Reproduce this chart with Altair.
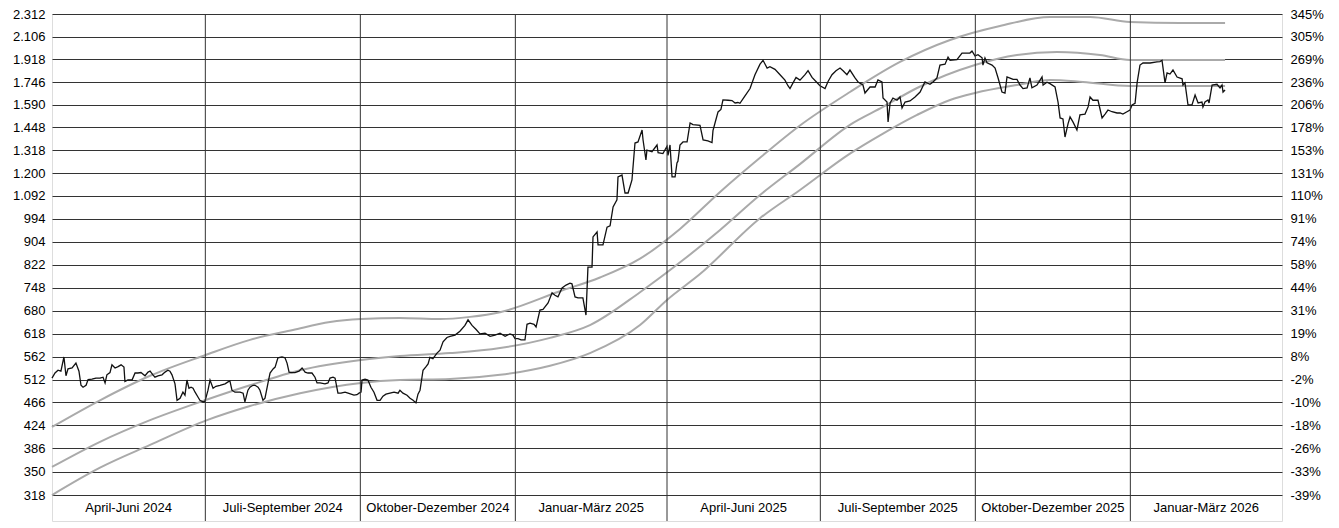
import altair as alt
import pandas as pd

BASE = pd.Timestamp("2024-04-01")

# ---------------- data ----------------
y_ticks = [318, 350, 386, 424, 466, 512, 562, 618, 680, 748, 822, 904, 994,
           1092, 1200, 1318, 1448, 1590, 1746, 1918, 2106, 2312]
right_labels = ["-39%", "-33%", "-26%", "-18%", "-10%", "-2%", "8%", "19%", "31%",
                "44%", "58%", "74%", "91%", "110%", "131%", "153%", "178%", "206%",
                "236%", "269%", "305%", "345%"]

quarter_names = ["April-Juni 2024", "Juli-September 2024", "Oktober-Dezember 2024",
                 "Januar-März 2025", "April-Juni 2025", "Juli-September 2025",
                 "Oktober-Dezember 2025", "Januar-März 2026"]
quarter_starts = ["2024-04-01", "2024-07-01", "2024-10-01", "2025-01-01",
                  "2025-04-01", "2025-07-01", "2025-10-01", "2026-01-01", "2026-04-01"]

# price: days since 2024-04-01 and closing value
price_days = [0, 1.8, 3.6, 5.3, 7.1, 8.3, 9.5, 11.9, 14.2, 16.0, 17.2, 18.4, 20.2, 21.4,
              23.7, 26.1, 28.5, 30.3, 31.5, 32.6, 34.4, 35.6, 37.4, 39.2, 41.0, 42.7,
              43.3, 45.1, 47.5, 49.3, 51.0, 52.8, 55.2, 57.0, 58.2, 59.9, 61.1, 62.9,
              65.3, 67.1, 68.8, 70.0, 71.2, 73.0, 74.2, 76.0, 77.7, 78.9, 80.1, 81.3,
              82.5, 83.7, 84.9, 86.7, 87.8, 89.6, 90.8,
              92.6, 93.8, 95.6, 97.3, 99.7, 102.7, 104.5, 105.6, 106.8, 108.6, 111.6,
              113.4, 114.5, 116.3, 117.5, 119.3, 120.5, 122.3, 123.4, 125.2, 126.4,
              128.2, 129.4, 131.2, 132.4, 134.1, 136.5, 138.3, 139.5, 140.7, 142.4,
              144.2, 146.6, 148.4, 150.2, 151.9, 154.3, 156.1, 157.3, 159.1, 162.0,
              163.8, 165.0, 166.8, 168.0, 169.7, 171.5, 173.9, 175.7, 177.5, 179.2,
              181.0, 182.2, 183.4,
              184.0, 185.8, 187.5, 189.3, 191.1, 192.9, 194.7, 196.4, 198.2, 200.6,
              203.0, 205.4, 206.5, 208.3, 210.7, 212.5, 214.3, 216.0, 217.2, 218.4,
              220.2, 222.0, 223.2, 224.3, 226.1, 228.5, 230.3, 232.1, 234.4, 236.2,
              239.2, 242.1, 245.1, 246.9, 249.3, 251.6, 254.0, 257.0, 260.0, 262.9,
              265.9, 268.9, 271.8, 273.6, 274.8,
              276.6, 278.4, 280.7, 281.9, 283.7, 286.1, 287.3, 289.6, 291.4, 294.4,
              296.8, 298.5, 300.3, 302.7, 305.1, 307.4, 308.6, 310.4, 312.2, 315.1,
              316.9, 318.1, 320.5, 321.1, 323.5, 324.1, 327.0, 329.4, 331.2, 333.0,
              335.3, 335.9, 338.3, 340.1, 341.9, 344.2, 346.0, 347.8, 350.2, 350.8,
              352.5, 353.1, 356.1, 359.1, 359.7, 362.6, 365.0,
              365.6, 366.8, 368.0, 369.8, 370.9, 371.5, 372.7, 374.5, 376.9, 378.7,
              380.4, 384.6, 386.4, 389.3, 391.7, 392.3, 393.5, 395.3, 397.0, 398.2,
              401.2, 403.6, 405.4, 407.1, 408.3, 411.3, 414.3, 417.2, 420.2, 422.0,
              424.4, 426.1, 429.1, 432.1, 435.0, 436.8, 438.0, 439.8, 441.6, 443.9,
              446.9, 448.7, 451.1, 453.4, 455.8,
              458.8, 460.6, 462.9, 465.3, 467.7, 469.5, 471.8, 473.6, 476.6, 478.4,
              481.3, 482.5, 485.5, 488.5, 490.2, 492.6, 493.2, 495.6, 496.2, 497.4,
              499.1, 501.5, 503.3, 504.5, 506.3, 509.2, 512.2, 515.2, 518.1, 521.1,
              522.9, 525.2, 527.0, 530.0, 531.8, 533.0, 537.1, 540.1, 542.5, 544.8,
              546.0, 547.8,
              549.6, 552.0, 552.5, 553.7, 554.9, 557.9, 559.7, 561.5, 563.8, 565.6,
              566.8, 568.6, 570.4, 572.7, 574.5, 576.3, 578.7, 580.4, 581.6, 584.6,
              586.4, 587.6, 588.2, 590.5, 592.3, 595.3, 597.1, 598.3, 600.0, 601.2,
              603.0, 604.2, 606.0, 608.3, 610.1, 613.1, 614.9, 616.1, 617.8, 620.8,
              623.2, 625.0, 626.7, 629.1, 632.1, 633.9, 635.6, 638.0, 639.8,
              641.0, 642.8, 644.0, 645.7, 647.5, 651.7, 655.8, 657.6, 658.8, 660.6,
              661.8, 663.5, 665.3, 667.7, 670.7, 671.2, 672.4, 674.2, 676.6, 678.4,
              680.2, 682.5, 683.1, 684.3, 686.1, 686.7, 688.5, 691.4, 693.2, 694.4,
              695.0, 696.2]
price_vals = [515, 526, 532, 530, 562, 520, 535, 537, 548, 530, 500, 496, 500, 512,
              513, 515, 515, 517, 505, 522, 527, 544, 537, 540, 544, 539,
              508, 511, 511, 526, 526, 527, 520, 528, 530, 522, 517, 520,
              522, 528, 532, 530, 522, 503, 470, 474, 486, 480, 511, 494,
              496, 494, 486, 476, 470, 467, 468,
              490, 511, 494, 498, 500, 503, 507, 509, 490, 486, 486,
              484, 467, 490, 496, 500, 500, 496, 490, 470, 474,
              505, 526, 535, 539, 560, 562, 560, 548, 528, 527,
              527, 530, 537, 528, 526, 526, 517, 505, 505, 503,
              505, 515, 517, 515, 484, 484, 486, 484, 482, 480,
              481, 484, 486,
              511, 513, 511, 496, 486, 470, 470, 478, 482, 484,
              486, 484, 490, 484, 480, 474, 470, 465, 482, 490,
              532, 540, 546, 561, 558, 571, 578, 598, 609, 612,
              615, 625, 640, 655, 640, 630, 618, 620, 612, 615,
              620, 612, 618, 615, 606,
              606, 603, 603, 643, 646, 643, 636, 682, 684, 702,
              732, 725, 720, 747, 756, 762, 760, 720, 717, 717,
              668, 814, 814, 922, 941, 892, 892, 960, 965, 1043,
              1074, 1181, 1190, 1105, 1105, 1166, 1358, 1364, 1433, 1375,
              1266, 1319, 1310, 1347, 1305, 1300, 1340,
              1290, 1347, 1181, 1181, 1251, 1260, 1347, 1364, 1364, 1475,
              1465, 1460, 1375, 1370, 1360, 1430, 1475, 1544, 1560, 1622,
              1620, 1618, 1602, 1605, 1600, 1650, 1700, 1800, 1880, 1910,
              1850, 1860, 1840, 1800, 1760, 1720, 1700, 1740, 1780, 1760,
              1800, 1830, 1780, 1750, 1720,
              1700, 1750, 1800, 1830, 1850, 1830, 1800, 1835, 1776, 1747,
              1725, 1669, 1711, 1711, 1761, 1747, 1635, 1608, 1481, 1602,
              1635, 1620, 1642, 1569, 1608, 1615, 1642, 1676, 1747, 1730,
              1747, 1776, 1873, 1880, 1936, 1910, 1915, 1968, 1968, 1968,
              1985, 1945,
              1955, 1930, 1873, 1928, 1890, 1873, 1850, 1776, 1676, 1669,
              1783, 1775, 1765, 1765, 1725, 1700, 1705, 1776, 1705, 1725,
              1760, 1783, 1725, 1745, 1735, 1711, 1608, 1506, 1500, 1392,
              1470, 1512, 1480, 1433, 1525, 1530, 1576, 1642, 1620, 1620,
              1506, 1530, 1556, 1545, 1537, 1537, 1530, 1545, 1556,
              1589, 1600, 1740, 1873, 1889, 1889, 1897, 1900, 1910, 1740,
              1813, 1805, 1835, 1783, 1770, 1725, 1740, 1589, 1589, 1655,
              1602, 1608, 1576, 1608, 1622, 1602, 1725, 1730, 1704, 1725,
              1676, 1690]

# gray trend lines (upper, middle, lower)
upper_days = [0, 28.5, 58.2, 90.8, 117.5, 143.0, 165.0, 183.4, 206.5, 230.3, 248.1,
              265.9, 301.5, 325.2, 349.0, 372.7, 396.5, 420.2, 443.9, 473.6, 503.3,
              533.0, 562.6, 592.3, 616.1, 639.8, 669.5, 696.2]
upper_vals = [421, 470, 520, 566, 603, 628, 649, 657, 660, 657, 663,
              676, 737, 780, 843, 953, 1110, 1278, 1460, 1676, 1897,
              2077, 2200, 2283, 2283, 2237, 2228, 2228]

mid_days = [0, 28.5, 58.2, 90.8, 117.5, 147.2, 183.4, 206.5, 236.2, 265.9, 295.6,
            319.3, 349.0, 374.5, 396.5, 420.2, 443.9, 473.6, 493.2, 513.4, 547.8,
            572.7, 596.5, 622.0, 639.8, 696.2]
mid_vals = [357, 396, 433, 470, 500, 532, 555, 564, 571, 583, 608,
            641, 734, 838, 949, 1096, 1245, 1464, 1576, 1704, 1873,
            1952, 1976, 1952, 1913, 1913]

low_days = [0, 28.5, 58.2, 92.0, 117.5, 147.2, 183.4, 206.5, 236.2, 265.9, 295.6,
            319.3, 349.0, 365.0, 384.6, 420.2, 443.9, 473.6, 493.2, 513.4, 533.0,
            547.8, 572.7, 592.3, 611.9, 639.8, 696.2]
low_vals = [318, 356, 391, 433, 459, 484, 505, 511, 513, 522, 542,
            571, 641, 711, 791, 996, 1119, 1300, 1412, 1525, 1622,
            1669, 1725, 1761, 1747, 1718, 1718]

# ---------------- tables ----------------
def to_dates(days):
    return [BASE + pd.Timedelta(hours=round(d * 24)) for d in days]

price_df = pd.DataFrame({"date": to_dates(price_days), "value": price_vals})
lines_df = pd.concat([
    pd.DataFrame({"date": to_dates(upper_days), "value": upper_vals, "band": "upper"}),
    pd.DataFrame({"date": to_dates(mid_days), "value": mid_vals, "band": "middle"}),
    pd.DataFrame({"date": to_dates(low_days), "value": low_vals, "band": "lower"}),
])
starts = pd.to_datetime(quarter_starts)
q_df = pd.DataFrame({
    "name": quarter_names,
    "mid": [starts[i] + (starts[i + 1] - starts[i]) / 2 for i in range(len(quarter_names))],
    "yv": [301.5] * len(quarter_names),
})
sep_df = pd.DataFrame({"date": starts[1:-1]})

FONT = "Liberation Sans"
x_scale = alt.Scale(domain=[BASE.isoformat(), pd.Timestamp("2026-04-01").isoformat()])
y_scale = alt.Scale(type="log", domain=[285.7, 2312], nice=False, zero=False)

right_expr = "".join(
    f"datum.value == {v} ? '{l}' : " for v, l in zip(y_ticks, right_labels)
) + "''"

left_axis = alt.Axis(values=y_ticks, orient="left", grid=True, gridColor="#333333",
                     gridWidth=1, ticks=False, domain=False, labelPadding=7,
                     labelFont=FONT, labelFontSize=13, labelColor="#000000",
                     labelExpr="replace(format(datum.value, ','), ',', '.')", title=None)
right_axis = alt.Axis(values=y_ticks, orient="right", grid=False, ticks=False,
                      domain=False, labelPadding=8, labelFont=FONT, labelFontSize=13,
                      labelColor="#000000", labelExpr=right_expr, title=None)

x_none = alt.X("date:T", scale=x_scale, axis=None)

seps = alt.Chart(sep_df).mark_rule(color="#333333", strokeWidth=1).encode(
    x=alt.X("date:T", scale=x_scale, axis=None)
)

grays = alt.Chart(lines_df).mark_line(
    color="#aaaaaa", strokeWidth=2, interpolate="monotone"
).encode(
    x=x_none,
    y=alt.Y("value:Q", scale=y_scale, axis=left_axis),
    detail="band:N",
)

price = alt.Chart(price_df).mark_line(color="#111111", strokeWidth=1.3).encode(
    x=x_none,
    y=alt.Y("value:Q", scale=y_scale, axis=right_axis),
)

qlabels = alt.Chart(q_df).mark_text(
    font=FONT, fontSize=13, color="#000000", baseline="middle", align="center"
).encode(
    x=alt.X("mid:T", scale=x_scale, axis=None),
    y=alt.Y("yv:Q", scale=y_scale, axis=None),
    text="name:N",
)

chart = alt.layer(grays, price, seps, qlabels).resolve_axis(y="independent").properties(
    width=1230, height=507,
    autosize=alt.AutoSizeParams(type="none"),
    padding={"left": 44, "top": 6, "right": 44, "bottom": 6},
).configure_view(stroke="#777777", strokeWidth=1).configure(background="#ffffff")

chart.save("out.html", embed_options={"renderer": "svg", "actions": False})
